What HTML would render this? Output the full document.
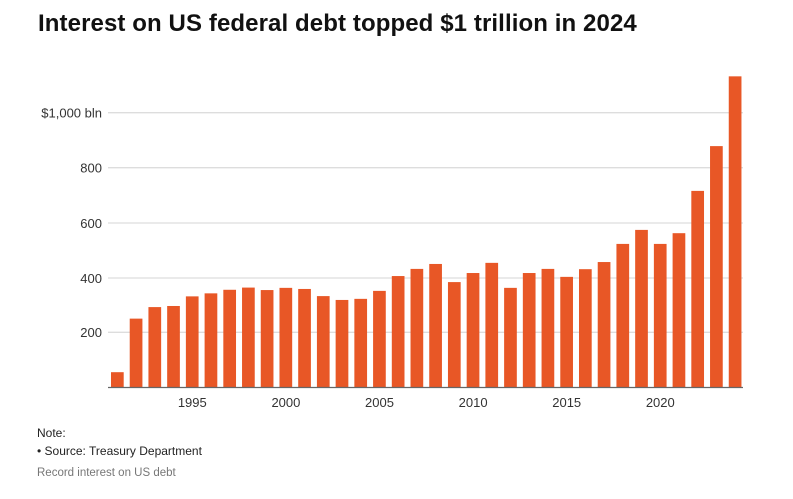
<!DOCTYPE html>
<html><head><meta charset="utf-8"><style>
body{margin:0;background:#fff;width:793px;height:494px;overflow:hidden;font-family:"Liberation Sans",sans-serif}
</style></head><body>
<svg width="793" height="494" xmlns="http://www.w3.org/2000/svg" font-family="Liberation Sans, sans-serif">
<text x="38" y="31" font-size="24" font-weight="bold" fill="#111" letter-spacing="0.1">Interest on US federal debt topped $1 trillion in 2024</text>
<g stroke="#ddd" stroke-width="1.3">
<line x1="108" x2="743" y1="112.7" y2="112.7"/>
<line x1="108" x2="743" y1="167.7" y2="167.7"/>
<line x1="108" x2="743" y1="223" y2="223"/>
<line x1="108" x2="743" y1="278" y2="278"/>
<line x1="108" x2="743" y1="332.3" y2="332.3"/>
</g>
<g font-size="13" fill="#333" text-anchor="end">
<text x="102" y="117.5">$1,000 bln</text>
<text x="102" y="172.5">800</text>
<text x="102" y="228">600</text>
<text x="102" y="283">400</text>
<text x="102" y="337">200</text>
</g>
<g id="bars" fill="#e85726"></g>
<line x1="108" x2="743" y1="387.5" y2="387.5" stroke="#666" stroke-width="1.3"/>
<g font-size="13" fill="#333" text-anchor="middle">
<text x="192.3" y="407">1995</text>
<text x="285.9" y="407">2000</text>
<text x="379.5" y="407">2005</text>
<text x="473.1" y="407">2010</text>
<text x="566.7" y="407">2015</text>
<text x="660.3" y="407">2020</text>
</g>
<text x="37" y="437" font-size="12" fill="#222">Note:</text>
<text x="37" y="455" font-size="12" fill="#222">• Source: Treasury Department</text>
<text x="37" y="476" font-size="11.5" fill="#777">Record interest on US debt</text>
</svg>
<script>
var v=[55,250,292,296,331,342,355,363,354,362,358,332,318,322,351,405,431,449,383,416,453,362,416,431,402,430,456,522,573,522,561,715,878,1132];
var g=document.getElementById('bars'),s='';
for(var i=0;i<v.length;i++){var h=v[i]*0.2747;var x=111+i*18.72;s+='<rect x="'+x.toFixed(2)+'" y="'+(387.3-h).toFixed(2)+'" width="12.7" height="'+h.toFixed(2)+'"/>';}
g.innerHTML=s;
</script>
</body></html>
